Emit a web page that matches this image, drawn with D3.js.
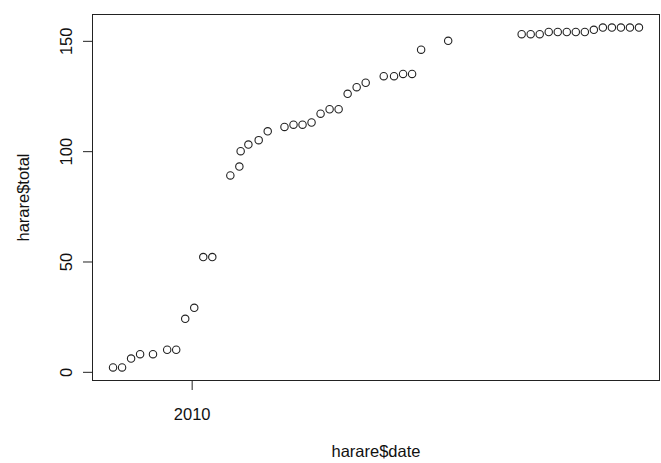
<!DOCTYPE html>
<html>
<head>
<meta charset="utf-8">
<script src="https://cdn.jsdelivr.net/npm/d3@7"></script>
<style>
  html, body { margin: 0; padding: 0; background: #fff; }
  svg { display: block; }
  text { font-family: "Liberation Sans", Arial, Helvetica, sans-serif; fill: #111; }
</style>
</head>
<body>
<svg id="chart" width="661" height="463"></svg>
<script>
// Cumulative totals recorded in Harare, by report date
const dates = [
  "2009-11-01", "2009-11-08", "2009-11-15", "2009-11-22", "2009-12-02",
  "2009-12-13", "2009-12-20", "2009-12-27", "2010-01-03", "2010-01-10",
  "2010-01-17", "2010-01-31", "2010-02-07", "2010-02-08", "2010-02-14",
  "2010-02-22", "2010-03-01", "2010-03-14", "2010-03-21", "2010-03-28",
  "2010-04-04", "2010-04-11", "2010-04-18", "2010-04-25", "2010-05-02",
  "2010-05-09", "2010-05-16", "2010-05-30", "2010-06-07", "2010-06-14",
  "2010-06-21", "2010-06-28", "2010-07-19", "2010-09-14", "2010-09-21",
  "2010-09-28", "2010-10-05", "2010-10-12", "2010-10-19", "2010-10-26",
  "2010-11-02", "2010-11-09", "2010-11-16", "2010-11-23", "2010-11-30",
  "2010-12-07", "2010-12-14"
];
const totals = [
  2, 2, 6, 8, 8,
  10, 10, 24, 29, 52,
  52, 89, 93, 100, 103,
  105, 109, 111, 112, 112,
  113, 117, 119, 119, 126,
  129, 131, 134, 134, 135,
  135, 146, 150, 153, 153,
  153, 154, 154, 154, 154,
  154, 155, 156, 156, 156,
  156, 156
];
const yTicks = [0, 50, 100, 150];
const xTicks = ["2010-01-01"];
const xTickLabels = ["2010"];

const parse = d3.utcParse("%Y-%m-%d");
const points = dates.map((d, i) => ({ date: parse(d), total: totals[i] }));

const plotLeft = 92, plotRight = 660, plotTop = 14, plotBottom = 381;

// Pad both ranges by 4% on each side
function padded(extent) {
  const a = +extent[0], b = +extent[1], p = (b - a) * 0.04;
  return [a - p, b + p];
}
const xDom = padded(d3.extent(points, d => d.date)).map(v => new Date(v));
const yDom = padded(d3.extent(points, d => d.total));

const x = d3.scaleUtc().domain(xDom).range([plotLeft, plotRight]);
const y = d3.scaleLinear().domain(yDom).range([plotBottom, plotTop]);

const svg = d3.select("#chart");
const ink = "#222";

// Plot frame
svg.append("rect")
  .attr("x", plotLeft + 0.5).attr("y", plotTop + 0.5)
  .attr("width", plotRight - plotLeft - 1).attr("height", plotBottom - plotTop - 1)
  .attr("fill", "none").attr("stroke", ink).attr("stroke-width", 1);

// Y axis
const yAxis = d3.axisLeft(y).tickValues(yTicks).tickSize(9.5).tickPadding(0).tickFormat(d3.format("d"));
const gy = svg.append("g").attr("transform", `translate(${plotLeft + 0.5},0)`).call(yAxis);
gy.select(".domain").attr("d", `M0,${y(yTicks[0])}V${y(yTicks[yTicks.length - 1])}`).attr("stroke", ink);
gy.selectAll(".tick line").attr("stroke", ink);
gy.selectAll(".tick text")
  .attr("x", null).attr("dy", null)
  .attr("transform", "translate(-21,0) rotate(-90)")
  .attr("text-anchor", "middle")
  .style("font-size", "16.5px")
  .style("font-family", "'Liberation Sans', Arial, sans-serif")
  .attr("fill", "#111");

// X axis
const xAxis = d3.axisBottom(x).tickValues(xTicks.map(parse)).tickSize(9.5).tickPadding(0)
  .tickFormat((d, i) => xTickLabels[i]);
const gx = svg.append("g").attr("transform", `translate(0,${plotBottom - 0.5})`).call(xAxis);
gx.select(".domain").remove();
gx.selectAll(".tick line").attr("stroke", ink);
gx.selectAll(".tick text")
  .attr("y", 39).attr("dy", null)
  .style("font-size", "16.5px")
  .style("font-family", "'Liberation Sans', Arial, sans-serif")
  .attr("fill", "#111");

// Axis titles
svg.append("text")
  .attr("x", (plotLeft + plotRight) / 2).attr("y", 457)
  .attr("text-anchor", "middle")
  .style("font-size", "16.5px")
  .text("harare$date");

svg.append("text")
  .attr("transform", `translate(29,${(plotTop + plotBottom) / 2}) rotate(-90)`)
  .attr("text-anchor", "middle")
  .style("font-size", "16.5px")
  .text("harare$total");

// Open circle markers
svg.append("g")
  .selectAll("circle")
  .data(points)
  .join("circle")
  .attr("cx", d => x(d.date))
  .attr("cy", d => y(d.total))
  .attr("r", 3.7)
  .attr("fill", "none")
  .attr("stroke", ink)
  .attr("stroke-width", 1.1);
</script>
</body>
</html>
